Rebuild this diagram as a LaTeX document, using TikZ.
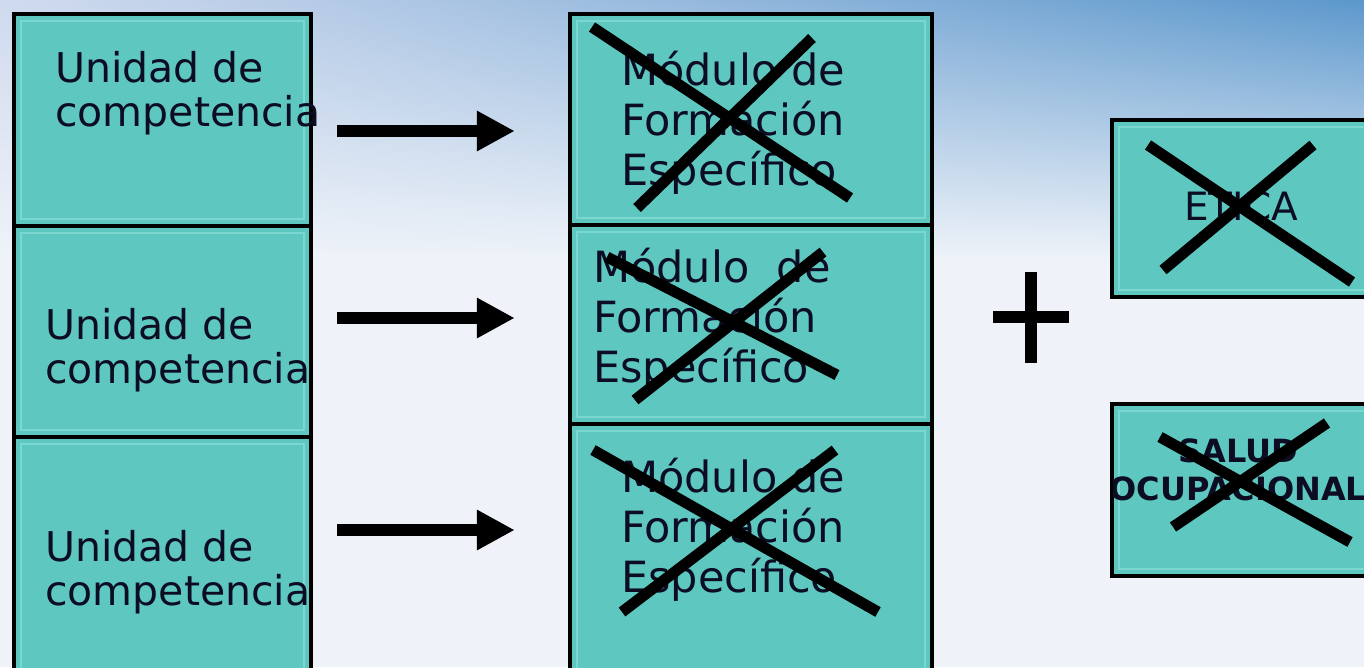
\documentclass[tikz,border=0pt]{standalone}
\usepackage{fontspec}
\setmainfont{DejaVu Sans}
\usetikzlibrary{arrows.meta,shadings}
\definecolor{boxfill}{HTML}{5EC8C0}
\definecolor{boxinner}{HTML}{7AD8D0}
\definecolor{txt}{HTML}{0C0C22}
\definecolor{skyA}{HTML}{D0DAEE}
\definecolor{skyB}{HTML}{5C98CC}
\definecolor{skyC}{HTML}{EFF3F9}
\begin{document}
\begin{tikzpicture}[x=1pt,y=-1pt,
  tealbox/.style={draw=black, line width=3.5pt, fill=boxfill, inner sep=0pt,
    path picture={\draw[boxinner, line width=1.5pt]
      ([shift={(7pt,-7pt)}]path picture bounding box.north west) rectangle
      ([shift={(-7pt,7pt)}]path picture bounding box.south east);}},
  unitxt/.style={text=txt, align=left, inner sep=0pt, anchor=base west,
    font=\fontsize{41}{44}\selectfont},
  modtxt/.style={text=txt, align=left, inner sep=0pt, anchor=base west,
    font=\fontsize{43}{50}\selectfont},
  xline/.style={draw=black, line width=11pt},
  bigarrow/.style={draw=black, line width=12pt,
    -{Triangle[length=38pt,width=38pt]}}
]
\useasboundingbox (0,0) rectangle (1364,667);
\clip (0,0) rectangle (1364,667);
% background sky
\fill[skyC] (0,0) rectangle (1364,667);
\shade[upper left=skyA, upper right=skyB, lower left=skyC, lower right=skyC]
  (0,0) rectangle (1364,260);

% left column
\node[tealbox, minimum width=297pt, minimum height=212pt] (L1) at (162.5,120) {};
\node[tealbox, minimum width=297pt, minimum height=211pt] (L2) at (162.5,331.5) {};
\node[tealbox, minimum width=297pt, minimum height=243pt] (L3) at (162.5,558.5) {};
\node[unitxt] (TL1) at (55,126) {Unidad de\\competencia};
\node[unitxt] (TL2) at (45,383) {Unidad de\\competencia};
\node[unitxt] (TL3) at (45,605) {Unidad de\\competencia};

% middle column
\node[tealbox, minimum width=362pt, minimum height=211pt] (M1) at (751,119.5) {};
\node[tealbox, minimum width=362pt, minimum height=199pt] (M2) at (751,324.5) {};
\node[tealbox, minimum width=362pt, minimum height=256pt] (M3) at (751,552) {};
\node[modtxt] (TM1) at (621,185) {Módulo de\\Formación\\Específico};
\node[modtxt] (TM2) at (593,382) {Módulo\ \ de\\Formación\\Específico};
\node[modtxt] (TM3) at (621,592) {Módulo de\\Formación\\Específico};

% right boxes
\node[tealbox, minimum width=288pt, minimum height=177pt] (E) at (1256,208.5) {};
\node[tealbox, minimum width=288pt, minimum height=172pt] (S) at (1256,490) {};
\node[text=txt, inner sep=0pt, anchor=base, font=\fontsize{39}{45}\selectfont]
  (TE) at (1241,220) {ETICA};
\begin{scope}
  \clip (1113.75,405.75) rectangle (1400,574.25);
  \node[text=txt, inner sep=0pt, anchor=base, align=center,
    font=\bfseries\fontsize{32}{38}\selectfont] (TS) at (1238,500) {SALUD\\OCUPACIONAL};
\end{scope}

% arrows
\draw[bigarrow, shorten <=24.5pt, shorten >=53.5pt] (L1.east |- 0,131) -- (M1.west |- 0,131);
\draw[bigarrow, shorten <=24.5pt, shorten >=53.5pt] (L2.east |- 0,318) -- (M2.west |- 0,318);
\draw[bigarrow, shorten <=24.5pt, shorten >=53.5pt] (L3.east |- 0,530) -- (M3.west |- 0,530);

% plus sign
\fill[black] (1025,272) rectangle (1037,363);
\fill[black] (993,311) rectangle (1069,323);

% crosses
\draw[xline] (592,27) -- (850,198);
\draw[xline] (812,38) -- (637,208);
\draw[xline] (607,257) -- (837,375);
\draw[xline] (823,252) -- (635,400);
\draw[xline] (593,450) -- (878,612);
\draw[xline] (835,450) -- (622,612);
\draw[xline] (1148,145) -- (1352,282);
\draw[xline] (1313,145) -- (1163,270);
\draw[xline] (1160,437) -- (1350,542);
\draw[xline] (1327,423) -- (1173,527);
\end{tikzpicture}
\end{document}
